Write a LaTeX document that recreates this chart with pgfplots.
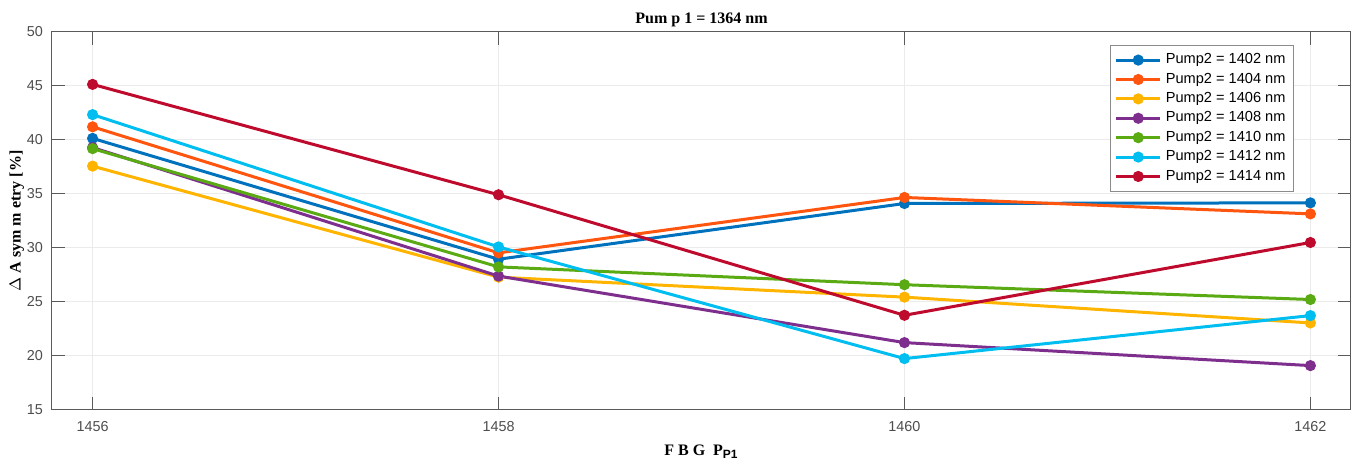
\documentclass[border=0pt]{standalone}
\usepackage{pgfplots}
\pgfplotsset{compat=1.18}
\usepackage{fontspec}
\setmainfont{Liberation Sans}
\newfontfamily\labfont{Liberation Serif}
\definecolor{c1}{RGB}{0,114,189}
\definecolor{c2}{RGB}{255,85,15}
\definecolor{c3}{RGB}{255,180,0}
\definecolor{c4}{RGB}{126,47,142}
\definecolor{c5}{RGB}{90,170,20}
\definecolor{c6}{RGB}{0,190,240}
\definecolor{c7}{RGB}{190,10,45}
\definecolor{axgray}{RGB}{90,90,90}
\definecolor{tickgray}{RGB}{77,77,77}
\definecolor{gridgray}{RGB}{235,235,235}
\begin{document}
\begin{tikzpicture}
\begin{axis}[
  scale only axis,
  width=649.5pt, height=189pt,
  xmin=1455.8, xmax=1462.2,
  ymin=15, ymax=50,
  xtick={1456,1458,1460,1462},
  ytick={15,20,25,30,35,40,45,50},
  /pgf/number format/assume math mode=true,
  /pgf/number format/1000 sep={},
  ticklabel style={font=\fontsize{7.2}{8}\selectfont, text=tickgray},
  xticklabel style={yshift=-2pt},
  yticklabel style={xshift=-1pt},
  tick align=inside,
  major tick length=6.5pt,
  tick style={axgray, line width=0.5pt},
  axis line style={axgray, line width=0.5pt},
  grid=major,
  grid style={gridgray, line width=0.5pt},
  title={\labfont\bfseries\fontsize{8}{9}\selectfont Pum p 1 = 1364 nm},
  title style={yshift=-7pt},
  xlabel={\labfont\bfseries\fontsize{8}{9}\selectfont F B G \ P$_{\mathbf{P1}}$},
  ylabel={\labfont\bfseries\fontsize{8}{9}\selectfont $\Delta$ A sym m etry [\%]},
  xlabel style={yshift=0pt},
  ylabel style={yshift=-5.5pt},
  every axis plot/.append style={line width=1.5pt, mark=*, mark size=2pt, mark options={solid}},
  legend style={
    at={([xshift=-28.5pt,yshift=-6.5pt]rel axis cs:1,1)}, anchor=north east,
    font=\fontsize{7.3}{8}\selectfont, draw=axgray!70, line width=0.5pt,
    inner xsep=2pt, inner ysep=2pt, row sep=-0.9pt,
    cells={anchor=west}
  },
  legend image code/.code={
    \draw[mark repeat=2,mark phase=2] plot coordinates {(0pt,0pt)(11pt,0pt)(22pt,0pt)};
  },
]
\addplot[c1] coordinates {(1456,40.15) (1458,28.96) (1460,34.12) (1462,34.18)};
\addlegendentry{Pump2 = 1402 nm}
\addplot[c2] coordinates {(1456,41.22) (1458,29.55) (1460,34.68) (1462,33.16)};
\addlegendentry{Pump2 = 1404 nm}
\addplot[c3] coordinates {(1456,37.58) (1458,27.3) (1460,25.45) (1462,23.06)};
\addlegendentry{Pump2 = 1406 nm}
\addplot[c4] coordinates {(1456,39.3) (1458,27.4) (1460,21.24) (1462,19.11)};
\addlegendentry{Pump2 = 1408 nm}
\addplot[c5] coordinates {(1456,39.2) (1458,28.25) (1460,26.6) (1462,25.23)};
\addlegendentry{Pump2 = 1410 nm}
\addplot[c6] coordinates {(1456,42.35) (1458,30.1) (1460,19.76) (1462,23.74)};
\addlegendentry{Pump2 = 1412 nm}
\addplot[c7] coordinates {(1456,45.15) (1458,34.93) (1460,23.77) (1462,30.51)};
\addlegendentry{Pump2 = 1414 nm}
\end{axis}
\pgfresetboundingbox
\path[use as bounding box] (-26pt,-25pt) rectangle (651pt,205pt);
\end{tikzpicture}
\end{document}
